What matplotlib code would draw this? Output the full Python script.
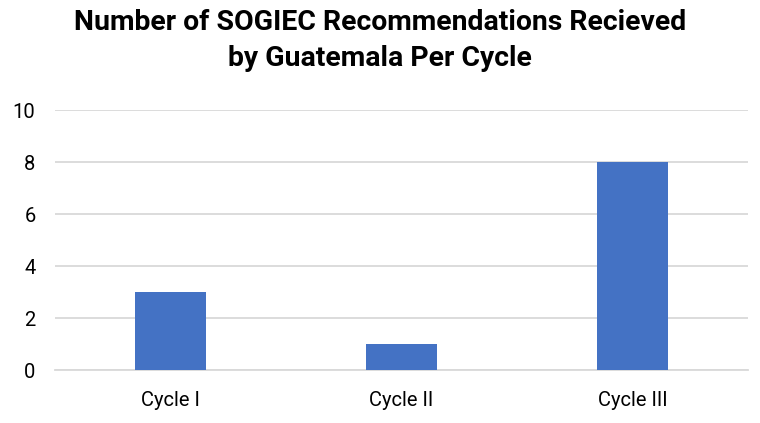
import matplotlib
matplotlib.use("Agg")
import matplotlib.pyplot as plt

categories = ["Cycle I", "Cycle II", "Cycle III"]
values = [3, 1, 8]
yticks = [0, 2, 4, 6, 8, 10]
title_lines = ["Number of SOGIEC Recommendations Recieved", "by Guatemala Per Cycle"]

fam = ["Roboto", "DejaVu Sans"]

fig = plt.figure(figsize=(7.6, 4.23), dpi=100)
ax = fig.add_axes([55/760, 53/423, 693/760, 260/423])

x = list(range(len(categories)))
ax.bar(x, values, width=0.31, color="#4472C4", zorder=3)
ax.set_xlim(-0.5, 2.5)
ax.set_ylim(0, 10)
ax.set_yticks(yticks)
ax.set_xticks(x)
ax.set_xticklabels(categories, fontsize=14.5, family=fam)
for lab in ax.get_yticklabels():
    lab.set_fontsize(14.5)
    lab.set_family(fam)
ax.grid(axis="y", color="#D9D9D9", linewidth=1.3, zorder=0)
for s in ["top", "right", "left"]:
    ax.spines[s].set_visible(False)
ax.spines["bottom"].set_color("#D9D9D9")
ax.spines["bottom"].set_linewidth(1.3)
ax.tick_params(axis="both", length=0)
ax.tick_params(axis="y", pad=14)
ax.tick_params(axis="x", pad=15)

fig.text(0.5, 1 - 23/423, title_lines[0], ha="center", va="center",
         fontsize=20.4, fontweight="bold", family=fam)
fig.text(0.5, 1 - 58/423, title_lines[1], ha="center", va="center",
         fontsize=20.4, fontweight="bold", family=fam)

fig.savefig("out.png", dpi=100)
